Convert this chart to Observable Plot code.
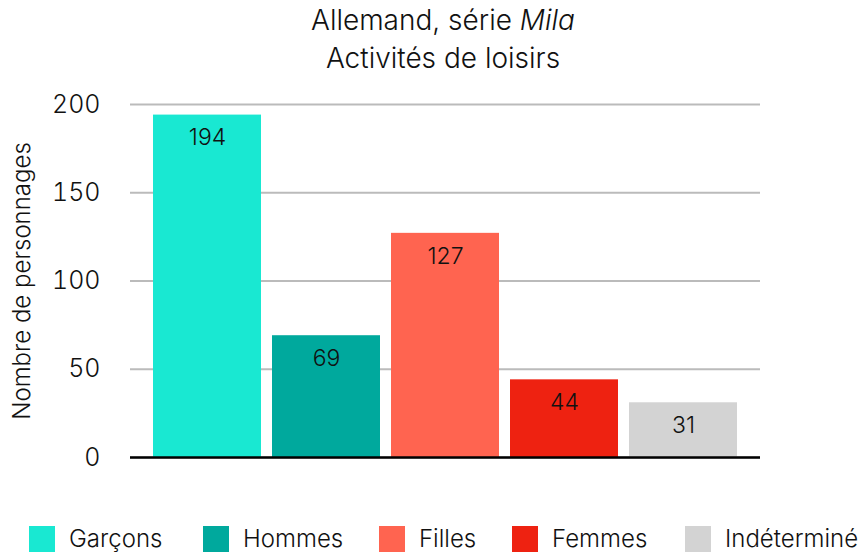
<!DOCTYPE html>
<html>
<head>
<meta charset="utf-8">
<script src="https://cdn.jsdelivr.net/npm/d3@7"></script>
<script src="https://cdn.jsdelivr.net/npm/@observablehq/plot@0.6"></script>
<style>
  html, body { margin: 0; padding: 0; background: #fff; }
  body { width: 864px; height: 555px; overflow: hidden; font-family: Inter, "Noto Sans", sans-serif; color: #111; font-weight: 300; }
  #title { height: 85px; width: 864px; box-sizing: border-box; padding-left: 22px; text-align: center; font-size: 28px; line-height: 38px; padding-top: 1px; }
  #legend { height: 60px; font-size: 24px; }
  .item { display: flex; align-items: center; position: absolute; }
  .sw { width: 26px; height: 26px; margin-right: 14px; }
  svg text { font-weight: 300; }
  g[aria-label="y-axis tick label"] text { font-size: 25px; }
  g[aria-label="y-axis label"] text { font-size: 24px; }
</style>
</head>
<body>
<div id="title">Allemand, série <i>Mila</i><br>Activités de loisirs</div>
<div id="chart"></div>
<div id="legend" style="position:relative"></div>
<script>
const categories = ["Garçons", "Hommes", "Filles", "Femmes", "Indéterminé"];
const values = [194, 69, 127, 44, 31];
const colors = ["#19E8D2", "#00A99D", "#FF6450", "#EE2211", "#D3D3D3"];
const yTicks = [0, 50, 100, 150, 200];
const legendX = [29, 203, 379, 512, 685];

const data = categories.map((c, i) => ({category: c, value: values[i]}));

const plot = Plot.plot({
  width: 864,
  height: 410,
  marginLeft: 130,
  marginRight: 104,
  marginTop: 19,
  marginBottom: 38,
  style: {fontFamily: "Inter, 'Noto Sans', sans-serif", fontSize: "22px", color: "#111", background: "#fff"},
  x: {domain: categories, paddingInner: 0.09, paddingOuter: 0.19, axis: null},
  y: {domain: [0, 200], ticks: yTicks, label: "Nombre de personnages", labelAnchor: "center", labelArrow: "none"},
  color: {domain: categories, range: colors},
  marks: [
    Plot.gridY(yTicks, {stroke: "#bbb", strokeOpacity: 1, strokeWidth: 2}),
    Plot.axisY({ticks: yTicks, tickSize: 0, tickPadding: 30, fontSize: 25, label: "Nombre de personnages", labelAnchor: "center", labelArrow: "none", labelOffset: 118}),
    Plot.barY(data, {x: "category", y: "value", fill: "category"}),
    Plot.ruleY([0], {stroke: "#000", strokeWidth: 2.5}),
    Plot.text(data, {x: "category", y: "value", text: d => String(d.value), dy: 23, fontSize: 23, fill: "#111"})
  ]
});
document.getElementById("chart").appendChild(plot);

const legend = document.getElementById("legend");
categories.forEach((c, i) => {
  const item = document.createElement("div");
  item.className = "item";
  item.style.left = legendX[i] + "px";
  item.style.top = "29px";
  const sw = document.createElement("div");
  sw.className = "sw";
  sw.style.background = colors[i];
  const t = document.createElement("span");
  t.textContent = c;
  item.appendChild(sw);
  item.appendChild(t);
  legend.appendChild(item);
});
</script>
</body>
</html>
